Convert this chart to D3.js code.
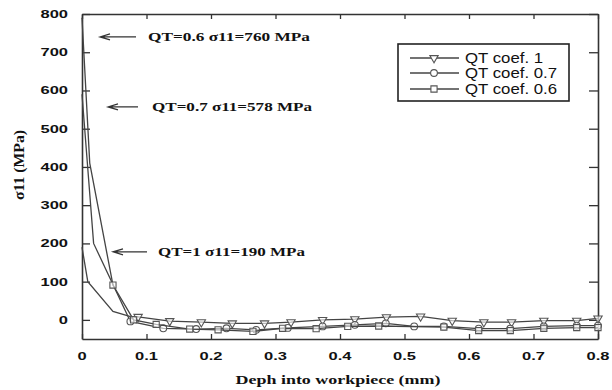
<!DOCTYPE html>
<html>
<head>
<meta charset="utf-8">
<script src="https://cdn.jsdelivr.net/npm/d3@7"></script>
<style>
  body { margin: 0; background: #fff; }
  svg text { fill: #111; }
</style>
</head>
<body>
<div id="chart"></div>
<script>
// depth (mm) and stress (MPa)
const depthQT1 = [0, 0.009, 0.048, 0.074, 0.087, 0.136, 0.185, 0.233, 0.283, 0.324, 0.373, 0.423, 0.472, 0.525, 0.574, 0.623, 0.666, 0.716, 0.767, 0.8];
const stressQT1 = [190, 100, 22, 9, 8, -3, -6, -9, -9, -6, 0, 2, 7, 9, -2, -6, -6, -2, -2, 4];

const depthQT07 = [0, 0.018, 0.075, 0.126, 0.177, 0.224, 0.27, 0.319, 0.373, 0.423, 0.471, 0.515, 0.561, 0.615, 0.664, 0.716, 0.767, 0.8];
const stressQT07 = [590, 200, -4, -22, -24, -22, -26, -21, -17, -13, -9, -17, -17, -23, -23, -17, -15, -15];

const depthQT06 = [0, 0.012, 0.048, 0.08, 0.115, 0.167, 0.211, 0.265, 0.311, 0.363, 0.412, 0.46, 0.561, 0.615, 0.664, 0.716, 0.767, 0.8];
const stressQT06 = [790, 410, 91, 0, -12, -24, -26, -30, -22, -23, -17, -16, -19, -28, -28, -22, -20, -20];

const seriesNames = ["QT coef. 1", "QT coef. 0.7", "QT coef. 0.6"];
const markerStart = [4, 2, 2]; // first point that carries a marker
const xTicks = [0, 0.1, 0.2, 0.3, 0.4, 0.5, 0.6, 0.7, 0.8];
const yTicks = [0, 100, 200, 300, 400, 500, 600, 700, 800];
const notes = ["QT=0.6 σ11=760 MPa", "QT=0.7 σ11=578 MPa", "QT=1 σ11=190 MPa"];
const noteStress = [740, 557, 178];

const width = 612, height = 390;
const margin = { top: 14, right: 14, bottom: 51, left: 82 };
const stretch = 1.5; // the figure is stretched horizontally

const svg = d3.select('#chart').append('svg')
    .attr('width', width)
    .attr('height', height);

const x = d3.scaleLinear().domain([0, 0.8]).range([margin.left, width - margin.right]);
const y = d3.scaleLinear().domain([-50, 800]).range([height - margin.bottom, margin.top]);

const axisColor = '#333';

// ticks, all pointing inward
const axes = [
    { axis: d3.axisBottom(x).tickValues(xTicks).tickSizeInner(-5), t: `translate(0,${y(-50)})` },
    { axis: d3.axisTop(x).tickValues(xTicks).tickSizeInner(-5), t: `translate(0,${y(800)})` },
    { axis: d3.axisLeft(y).tickValues(yTicks).tickSizeInner(-8), t: `translate(${x(0)},0)` },
    { axis: d3.axisRight(y).tickValues(yTicks).tickSizeInner(-9), t: `translate(${x(0.8)},0)` }
];
axes.forEach(a => {
    const g = svg.append('g')
        .attr('transform', a.t)
        .call(a.axis.tickSizeOuter(0).tickFormat(''));
    g.select('.domain').attr('stroke', axisColor).attr('stroke-width', 1.6);
    g.selectAll('.tick line').attr('stroke', axisColor).attr('stroke-width', 1.3);
});

// tick labels (bold sans, stretched like the source)
svg.selectAll('.ylab')
    .data(yTicks)
    .join('text')
    .attr('class', 'ylab')
    .attr('transform', d => `translate(68,${y(d) + 4}) scale(${stretch},1)`)
    .attr('text-anchor', 'end')
    .attr('font-family', 'Liberation Sans, Arial, sans-serif')
    .attr('font-weight', 'bold')
    .attr('font-size', '11px')
    .text(d => d);

svg.selectAll('.xlab')
    .data(xTicks)
    .join('text')
    .attr('class', 'xlab')
    .attr('transform', d => `translate(${x(d)},${y(-50) + 21}) scale(${stretch},1)`)
    .attr('text-anchor', 'middle')
    .attr('font-family', 'Liberation Sans, Arial, sans-serif')
    .attr('font-weight', 'bold')
    .attr('font-size', '11px')
    .text(d => d === 0 ? '0' : d.toFixed(1));

// axis titles
svg.append('text')
    .attr('x', 338)
    .attr('y', 384)
    .attr('text-anchor', 'middle')
    .attr('font-family', 'Liberation Serif, Times New Roman, serif')
    .attr('font-weight', 'bold')
    .attr('font-size', '13px')
    .attr('textLength', 205)
    .attr('lengthAdjust', 'spacingAndGlyphs')
    .text('Deph into workpiece (mm)');

svg.append('text')
    .attr('transform', 'translate(24,165) rotate(-90)')
    .attr('text-anchor', 'middle')
    .attr('font-family', 'Liberation Serif, Times New Roman, serif')
    .attr('font-weight', 'bold')
    .attr('font-size', '14px')
    .attr('textLength', 70)
    .attr('lengthAdjust', 'spacingAndGlyphs')
    .text('σ11 (MPa)');

// series
const series = [
    { xs: depthQT1, ys: stressQT1, symbol: d3.symbolTriangle, rot: 180, size: 30 },
    { xs: depthQT07, ys: stressQT07, symbol: d3.symbolCircle, rot: 0, size: 36 },
    { xs: depthQT06, ys: stressQT06, symbol: d3.symbolSquare, rot: 0, size: 38 }
];

const line = d3.line().x(d => x(d[0])).y(d => y(d[1]));

series.forEach((s, i) => {
    const pts = s.xs.map((v, j) => [v, s.ys[j]]);
    svg.append('path')
        .datum(pts)
        .attr('d', line)
        .attr('fill', 'none')
        .attr('stroke', '#444')
        .attr('stroke-width', 1.3);
    svg.selectAll(`.mk${i}`)
        .data(pts.slice(markerStart[i]))
        .join('path')
        .attr('class', `mk${i}`)
        .attr('d', d3.symbol(s.symbol, s.size))
        .attr('transform', d => `translate(${x(d[0])},${y(d[1])}) rotate(${s.rot})`)
        .attr('fill', '#fff')
        .attr('fill-opacity', 0.6)
        .attr('stroke', '#555')
        .attr('stroke-width', 1.1);
});

// annotations with open arrows
const noteX = [148, 152, 158];
const noteLen = [162, 160, 147];
const arrowFrom = [136, 138, 147];
const arrowTo = [100, 108, 113];
notes.forEach((n, i) => {
    const yy = y(noteStress[i]);
    svg.append('text')
        .attr('x', noteX[i])
        .attr('y', yy + 4)
        .attr('font-family', 'Liberation Serif, Times New Roman, serif')
        .attr('font-weight', 'bold')
        .attr('font-size', '12px')
        .attr('textLength', noteLen[i])
        .attr('lengthAdjust', 'spacingAndGlyphs')
        .text(n);
    svg.append('path')
        .attr('d', `M${arrowFrom[i]},${yy}H${arrowTo[i]}M${arrowTo[i] + 10},${yy - 3}L${arrowTo[i]},${yy}L${arrowTo[i] + 10},${yy + 3}`)
        .attr('fill', 'none')
        .attr('stroke', '#333')
        .attr('stroke-width', 1.2);
});

// legend
const legend = svg.append('g').attr('transform', 'translate(398,44)');
legend.append('rect')
    .attr('width', 171)
    .attr('height', 57)
    .attr('fill', '#fff')
    .attr('stroke', '#222')
    .attr('stroke-width', 1.6);
const legendY = [14, 29, 45];
seriesNames.forEach((name, i) => {
    const g = legend.append('g').attr('transform', `translate(0,${legendY[i]})`);
    g.append('line')
        .attr('x1', 12).attr('x2', 61)
        .attr('stroke', '#444')
        .attr('stroke-width', 1.3);
    g.append('path')
        .attr('d', d3.symbol(series[i].symbol, series[i].size))
        .attr('transform', `translate(36,0) rotate(${series[i].rot})`)
        .attr('fill', '#fff')
        .attr('stroke', '#555')
        .attr('stroke-width', 1.1);
    g.append('text')
        .attr('transform', `translate(67,5) scale(1.2,1)`)
        .attr('font-family', 'Liberation Sans, Arial, sans-serif')
        .attr('font-size', '14px')
        .text(name);
});
</script>
</body>
</html>
